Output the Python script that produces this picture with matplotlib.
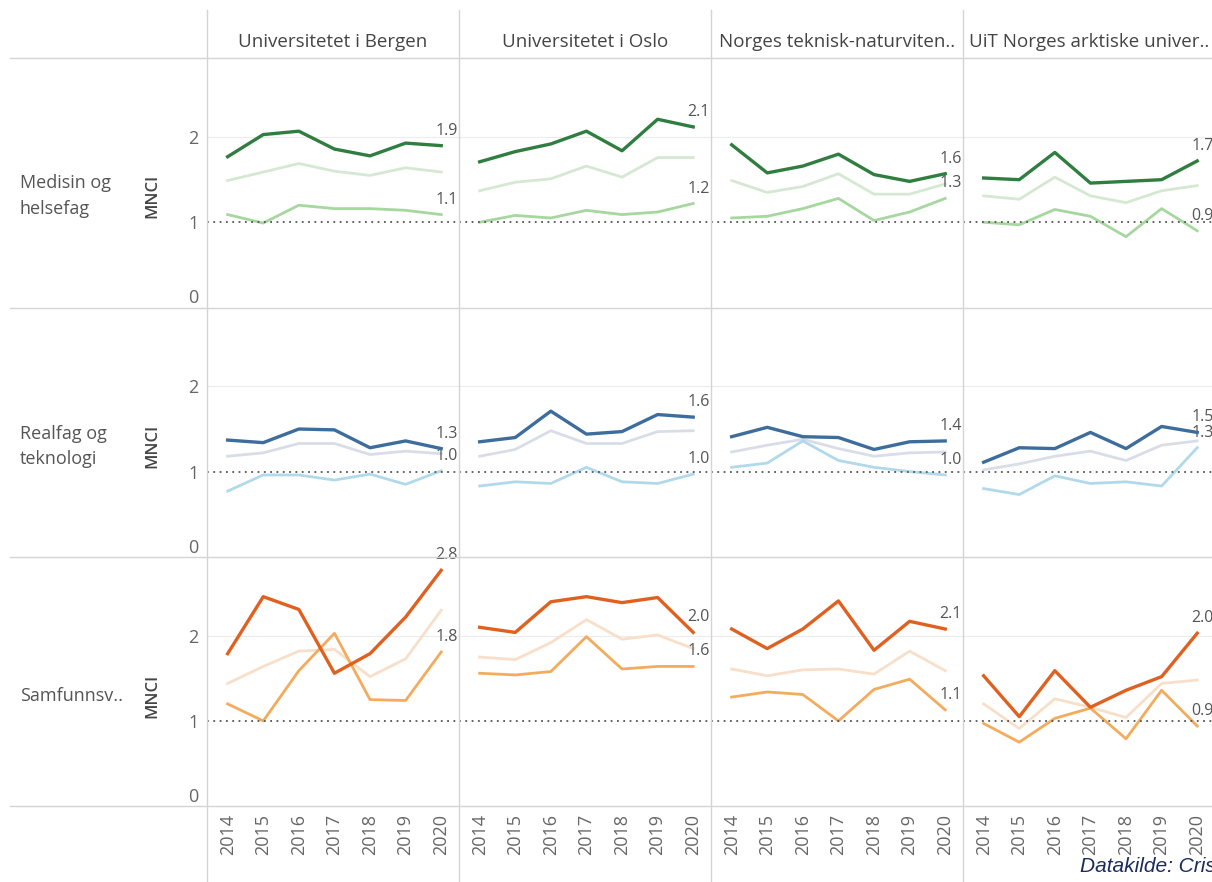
import matplotlib.pyplot as plt
from matplotlib.lines import Line2D
import numpy as np

plt.rcParams['font.family'] = ['Open Sans', 'DejaVu Sans']

# --- data ---
years = [2014, 2015, 2016, 2017, 2018, 2019, 2020]
universities = ['Universitetet i Bergen', 'Universitetet i Oslo',
                'Norges teknisk-naturviten..', 'UiT Norges arktiske univer..']
fields = ['Medisin og\nhelsefag', 'Realfag og\nteknologi', 'Samfunnsv..']

# three series per panel: dark (labelled), pale, medium (labelled)
med_dark = [[1.77, 2.03, 2.07, 1.86, 1.78, 1.93, 1.90],
            [1.71, 1.83, 1.92, 2.07, 1.84, 2.21, 2.12],
            [1.91, 1.58, 1.66, 1.80, 1.56, 1.48, 1.57],
            [1.52, 1.50, 1.82, 1.46, 1.48, 1.50, 1.72]]
med_pale = [[1.49, 1.59, 1.69, 1.60, 1.55, 1.64, 1.59],
            [1.37, 1.47, 1.51, 1.66, 1.53, 1.76, 1.76],
            [1.49, 1.35, 1.42, 1.57, 1.33, 1.33, 1.45],
            [1.31, 1.27, 1.53, 1.31, 1.23, 1.37, 1.43]]
med_mid = [[1.09, 0.99, 1.20, 1.16, 1.16, 1.14, 1.09],
           [1.00, 1.08, 1.05, 1.14, 1.09, 1.12, 1.22],
           [1.05, 1.07, 1.16, 1.28, 1.02, 1.12, 1.28],
           [1.00, 0.97, 1.15, 1.07, 0.83, 1.16, 0.90]]

real_dark = [[1.37, 1.34, 1.50, 1.49, 1.28, 1.36, 1.27],
             [1.35, 1.40, 1.71, 1.44, 1.47, 1.67, 1.64],
             [1.41, 1.52, 1.41, 1.40, 1.26, 1.35, 1.36],
             [1.11, 1.28, 1.27, 1.46, 1.27, 1.53, 1.46]]
real_pale = [[1.18, 1.22, 1.33, 1.33, 1.20, 1.24, 1.21],
             [1.18, 1.26, 1.48, 1.33, 1.33, 1.47, 1.48],
             [1.23, 1.31, 1.38, 1.27, 1.18, 1.22, 1.23],
             [1.02, 1.09, 1.18, 1.24, 1.13, 1.31, 1.36]]
real_mid = [[0.77, 0.96, 0.96, 0.90, 0.97, 0.85, 1.01],
            [0.83, 0.88, 0.86, 1.05, 0.88, 0.86, 0.97],
            [1.05, 1.10, 1.36, 1.13, 1.05, 1.00, 0.96],
            [0.80, 0.73, 0.95, 0.86, 0.88, 0.83, 1.28]]

sam_dark = [[1.79, 2.46, 2.31, 1.56, 1.79, 2.22, 2.77],
            [2.10, 2.04, 2.40, 2.46, 2.39, 2.45, 2.04],
            [2.08, 1.85, 2.08, 2.41, 1.83, 2.17, 2.08],
            [1.53, 1.05, 1.59, 1.16, 1.36, 1.52, 2.03]]
sam_pale = [[1.44, 1.64, 1.82, 1.84, 1.52, 1.73, 2.30],
            [1.75, 1.72, 1.92, 2.19, 1.96, 2.01, 1.85],
            [1.61, 1.53, 1.60, 1.61, 1.55, 1.82, 1.59],
            [1.20, 0.91, 1.26, 1.16, 1.04, 1.44, 1.48]]
sam_mid = [[1.20, 1.00, 1.59, 2.03, 1.25, 1.24, 1.81],
           [1.56, 1.54, 1.58, 1.99, 1.61, 1.64, 1.64],
           [1.28, 1.34, 1.31, 1.00, 1.37, 1.49, 1.13],
           [0.97, 0.75, 1.03, 1.15, 0.79, 1.36, 0.94]]

rows = [(med_dark, med_pale, med_mid), (real_dark, real_pale, real_mid),
        (sam_dark, sam_pale, sam_mid)]
palettes = [('#2f7d3f', '#d5e8d2', '#a6d79e'),
            ('#3d6d9c', '#d9dde8', '#b0daeb'),
            ('#e0611f', '#f8dfc9', '#f4ab5c')]

W, H = 1212, 882
fig = plt.figure(figsize=(W / 100, H / 100), dpi=100)
left, top, bottom = 207 / W, 1 - 58 / H, 1 - 806 / H
colw = 252 / W
gs = fig.add_gridspec(3, 4, left=left, right=left + 4 * colw, top=top, bottom=bottom,
                      wspace=0, hspace=0)

tick_col = '#666666'
for r in range(3):
    dark, pale, mid = rows[r]
    c_dark, c_pale, c_mid = palettes[r]
    for c in range(4):
        ax = fig.add_subplot(gs[r, c])
        ax.set_xlim(2013.42, 2020.5)
        ax.set_ylim(0, 2.93)
        for s in ax.spines.values():
            s.set_visible(False)
        ax.axhline(2, color='#ececec', lw=0.8, zorder=0)
        ax.plot(years, pale[c], color=c_pale, lw=2.0, zorder=2)
        ax.plot(years, mid[c], color=c_mid, lw=2.0, zorder=3)
        ax.plot(years, dark[c], color=c_dark, lw=2.4, zorder=4)
        ax.axhline(1, color='#555555', lw=1.3, ls=(0, (1, 2.5)), zorder=5)
        for series in (dark[c], mid[c]):
            ax.annotate(f'{series[-1]:.1f}', (years[-1], series[-1]),
                        xytext=(4, 5), textcoords='offset points',
                        ha='center', va='bottom', fontsize=11.5, color='#555555',
                        annotation_clip=False)
        ax.set_yticks([0, 1, 2])
        ax.set_xticks(years)
        ax.tick_params(length=0, colors=tick_col, labelsize=13, pad=6)
        if c == 0:
            ax.set_yticklabels(['0', '1', '2'])
            ax.get_yticklabels()[0].set_va('bottom')
        else:
            ax.set_yticklabels([])
        if r == 2:
            ax.set_xticklabels([str(y) for y in years], rotation=90)
        else:
            ax.set_xticklabels([])
        if r == 0:
            ax.set_title(universities[c], fontsize=13.5, color='#444444', pad=8, loc='center')

    yc = 1 - (58 + 250 * r + 138) / H
    fig.text(20 / W, yc, fields[r], fontsize=13, color='#555555', ha='left', va='center',
             linespacing=1.5)
    fig.text(152 / W, yc, 'MNCI', fontsize=12, color='#444444', ha='center', va='center',
             rotation=90, fontweight='semibold')

# grid separators
for yp in (58, 308, 557, 806):
    fig.add_artist(Line2D([10 / W, 1], [1 - yp / H, 1 - yp / H], color='#d4d4d4', lw=1))
for xp in (207, 459, 711, 963):
    fig.add_artist(Line2D([xp / W, xp / W], [1 - 10 / H, 0], color='#d4d4d4', lw=1))

fig.text(1080 / W, 1 - 867 / H, 'Datakilde: Cristin', fontsize=15, color='#1c2b5e',
         style='italic', family=['Liberation Sans', 'DejaVu Sans'], ha='left', va='center')

fig.savefig('out.png', dpi=100)
